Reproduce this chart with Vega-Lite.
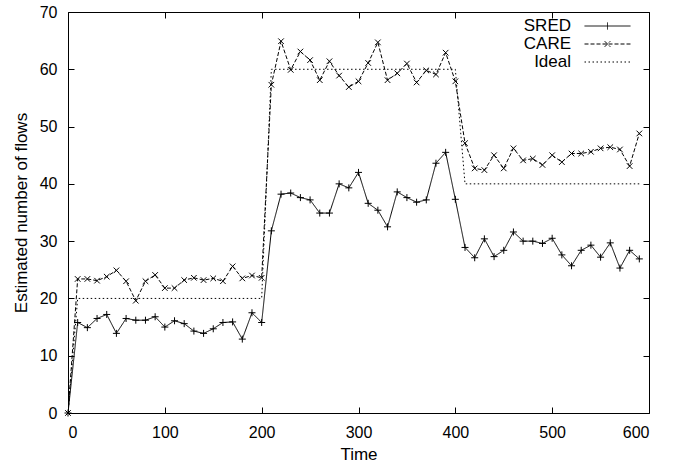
{
  "$schema": "https://vega.github.io/schema/vega-lite/v6.json",
  "width": 581,
  "height": 401,
  "autosize": {"type": "none"},
  "padding": {"left": 68, "top": 12, "right": 32, "bottom": 55},
  "background": "white",
  "config": {
    "font": "Liberation Sans",
    "view": {"stroke": "black", "strokeWidth": 1},
    "axis": {
      "grid": false,
      "domain": false,
      "tickColor": "black",
      "tickSize": -6,
      "tickWidth": 1,
      "labelColor": "black",
      "labelFontSize": 16,
      "labelFont": "Liberation Sans",
      "titleColor": "black",
      "titleFontSize": 17,
      "titleFont": "Liberation Sans",
      "titleFontWeight": "normal"
    }
  },
  "datasets": {
    "d": [
      {"t": 0, "v": 0, "s": "SRED"}, {"t": 10, "v": 15.8, "s": "SRED"}, {"t": 20, "v": 14.9, "s": "SRED"}, {"t": 30, "v": 16.5, "s": "SRED"}, {"t": 40, "v": 17.2, "s": "SRED"}, {"t": 50, "v": 13.9, "s": "SRED"}, {"t": 60, "v": 16.5, "s": "SRED"}, {"t": 70, "v": 16.2, "s": "SRED"}, {"t": 80, "v": 16.2, "s": "SRED"}, {"t": 90, "v": 16.8, "s": "SRED"},
      {"t": 100, "v": 15.0, "s": "SRED"}, {"t": 110, "v": 16.1, "s": "SRED"}, {"t": 120, "v": 15.6, "s": "SRED"}, {"t": 130, "v": 14.3, "s": "SRED"}, {"t": 140, "v": 13.9, "s": "SRED"}, {"t": 150, "v": 14.7, "s": "SRED"}, {"t": 160, "v": 15.8, "s": "SRED"}, {"t": 170, "v": 15.9, "s": "SRED"}, {"t": 180, "v": 12.9, "s": "SRED"}, {"t": 190, "v": 17.5, "s": "SRED"},
      {"t": 200, "v": 15.8, "s": "SRED"}, {"t": 210, "v": 31.8, "s": "SRED"}, {"t": 220, "v": 38.2, "s": "SRED"}, {"t": 230, "v": 38.4, "s": "SRED"}, {"t": 240, "v": 37.6, "s": "SRED"}, {"t": 250, "v": 37.2, "s": "SRED"}, {"t": 260, "v": 34.9, "s": "SRED"}, {"t": 270, "v": 34.9, "s": "SRED"}, {"t": 280, "v": 40.0, "s": "SRED"}, {"t": 290, "v": 39.3, "s": "SRED"},
      {"t": 300, "v": 42.0, "s": "SRED"}, {"t": 310, "v": 36.6, "s": "SRED"}, {"t": 320, "v": 35.4, "s": "SRED"}, {"t": 330, "v": 32.5, "s": "SRED"}, {"t": 340, "v": 38.6, "s": "SRED"}, {"t": 350, "v": 37.6, "s": "SRED"}, {"t": 360, "v": 36.8, "s": "SRED"}, {"t": 370, "v": 37.2, "s": "SRED"}, {"t": 380, "v": 43.6, "s": "SRED"}, {"t": 390, "v": 45.5, "s": "SRED"},
      {"t": 400, "v": 37.3, "s": "SRED"}, {"t": 410, "v": 28.9, "s": "SRED"}, {"t": 420, "v": 27.1, "s": "SRED"}, {"t": 430, "v": 30.4, "s": "SRED"}, {"t": 440, "v": 27.3, "s": "SRED"}, {"t": 450, "v": 28.4, "s": "SRED"}, {"t": 460, "v": 31.6, "s": "SRED"}, {"t": 470, "v": 30.0, "s": "SRED"}, {"t": 480, "v": 30.0, "s": "SRED"}, {"t": 490, "v": 29.6, "s": "SRED"},
      {"t": 500, "v": 30.5, "s": "SRED"}, {"t": 510, "v": 27.6, "s": "SRED"}, {"t": 520, "v": 25.7, "s": "SRED"}, {"t": 530, "v": 28.4, "s": "SRED"}, {"t": 540, "v": 29.3, "s": "SRED"}, {"t": 550, "v": 27.2, "s": "SRED"}, {"t": 560, "v": 29.7, "s": "SRED"}, {"t": 570, "v": 25.3, "s": "SRED"}, {"t": 580, "v": 28.4, "s": "SRED"}, {"t": 590, "v": 26.9, "s": "SRED"},
      {"t": 0, "v": 0, "s": "CARE"}, {"t": 10, "v": 23.4, "s": "CARE"}, {"t": 20, "v": 23.4, "s": "CARE"}, {"t": 30, "v": 23.1, "s": "CARE"}, {"t": 40, "v": 23.8, "s": "CARE"}, {"t": 50, "v": 24.9, "s": "CARE"}, {"t": 60, "v": 23.0, "s": "CARE"}, {"t": 70, "v": 19.6, "s": "CARE"}, {"t": 80, "v": 23.0, "s": "CARE"}, {"t": 90, "v": 24.1, "s": "CARE"},
      {"t": 100, "v": 21.8, "s": "CARE"}, {"t": 110, "v": 21.8, "s": "CARE"}, {"t": 120, "v": 23.2, "s": "CARE"}, {"t": 130, "v": 23.6, "s": "CARE"}, {"t": 140, "v": 23.2, "s": "CARE"}, {"t": 150, "v": 23.5, "s": "CARE"}, {"t": 160, "v": 23.0, "s": "CARE"}, {"t": 170, "v": 25.6, "s": "CARE"}, {"t": 180, "v": 23.5, "s": "CARE"}, {"t": 190, "v": 24.0, "s": "CARE"},
      {"t": 200, "v": 23.6, "s": "CARE"}, {"t": 210, "v": 57.3, "s": "CARE"}, {"t": 220, "v": 64.9, "s": "CARE"}, {"t": 230, "v": 59.9, "s": "CARE"}, {"t": 240, "v": 63.1, "s": "CARE"}, {"t": 250, "v": 61.6, "s": "CARE"}, {"t": 260, "v": 58.1, "s": "CARE"}, {"t": 270, "v": 61.4, "s": "CARE"}, {"t": 280, "v": 58.9, "s": "CARE"}, {"t": 290, "v": 56.9, "s": "CARE"},
      {"t": 300, "v": 57.9, "s": "CARE"}, {"t": 310, "v": 61.1, "s": "CARE"}, {"t": 320, "v": 64.7, "s": "CARE"}, {"t": 330, "v": 58.1, "s": "CARE"}, {"t": 340, "v": 59.3, "s": "CARE"}, {"t": 350, "v": 61.0, "s": "CARE"}, {"t": 360, "v": 57.7, "s": "CARE"}, {"t": 370, "v": 59.8, "s": "CARE"}, {"t": 380, "v": 59.1, "s": "CARE"}, {"t": 390, "v": 62.9, "s": "CARE"},
      {"t": 400, "v": 57.9, "s": "CARE"}, {"t": 410, "v": 47.1, "s": "CARE"}, {"t": 420, "v": 42.7, "s": "CARE"}, {"t": 430, "v": 42.4, "s": "CARE"}, {"t": 440, "v": 45.0, "s": "CARE"}, {"t": 450, "v": 42.7, "s": "CARE"}, {"t": 460, "v": 46.2, "s": "CARE"}, {"t": 470, "v": 44.1, "s": "CARE"}, {"t": 480, "v": 44.4, "s": "CARE"}, {"t": 490, "v": 43.3, "s": "CARE"},
      {"t": 500, "v": 45.0, "s": "CARE"}, {"t": 510, "v": 43.8, "s": "CARE"}, {"t": 520, "v": 45.3, "s": "CARE"}, {"t": 530, "v": 45.3, "s": "CARE"}, {"t": 540, "v": 45.6, "s": "CARE"}, {"t": 550, "v": 46.2, "s": "CARE"}, {"t": 560, "v": 46.4, "s": "CARE"}, {"t": 570, "v": 46.0, "s": "CARE"}, {"t": 580, "v": 43.1, "s": "CARE"}, {"t": 590, "v": 48.8, "s": "CARE"},
      {"t": 0, "v": 0, "s": "Ideal"}, {"t": 10, "v": 20, "s": "Ideal"}, {"t": 200, "v": 20, "s": "Ideal"}, {"t": 210, "v": 60, "s": "Ideal"}, {"t": 400, "v": 60, "s": "Ideal"}, {"t": 410, "v": 40, "s": "Ideal"}, {"t": 590, "v": 40, "s": "Ideal"}
    ]
  },
  "data": {"name": "d"},
  "layer": [
    {
      "mark": {"type": "line", "color": "black", "strokeWidth": 1, "clip": true},
      "encoding": {
        "x": {"field": "t", "type": "quantitative", "scale": {"domain": [0, 600], "nice": false}, "axis": {"title": "Time", "orient": "bottom", "values": [0, 100, 200, 300, 400, 500, 600], "labelPadding": 17, "titlePadding": 6}},
        "y": {"field": "v", "type": "quantitative", "scale": {"domain": [0, 70], "nice": false}, "axis": {"title": "Estimated number of flows", "orient": "left", "values": [0, 10, 20, 30, 40, 50, 60, 70], "labelPadding": 17, "titlePadding": 9}},
        "strokeDash": {
          "field": "s", "type": "nominal",
          "scale": {"domain": ["SRED", "CARE", "Ideal"], "range": [[1, 0], [4, 2], [1.5, 2.5]]},
          "legend": {
            "title": null,
            "orient": "none",
            "legendX": 451,
            "legendY": 5.5,
            "padding": 0,
            "symbolSize": 49,
            "symbolStrokeColor": "black",
            "symbolStrokeWidth": 1,
            "symbolOffset": 80,
            "labelOffset": -45,
            "labelAlign": "right",
            "labelFontSize": 17,
            "labelColor": "black",
            "labelFont": "Liberation Sans",
            "rowPadding": 0,
            "encode": {
              "symbols": {
                "update": {
                  "shape": {"signal": "datum.value === 'SRED' ? 'M-6.57,0L6.57,0M0,-1L0,1' : datum.value === 'CARE' ? 'M-6.57,0L6.57,0M-0.8,-0.8L0.8,0.8M-0.8,0.8L0.8,-0.8' : 'M-6.57,0L6.57,0'"}
                }
              }
            }
          }
        }
      }
    },
    {
      "transform": [{"filter": "datum.s !== 'Ideal'"}],
      "mark": {"type": "point", "filled": false, "stroke": "black", "strokeWidth": 1, "size": 49, "opacity": 1},
      "encoding": {
        "x": {"field": "t", "type": "quantitative", "scale": {"domain": [0, 600], "nice": false}, "axis": {"title": null, "orient": "top", "labels": false, "values": [0, 100, 200, 300, 400, 500, 600]}},
        "y": {"field": "v", "type": "quantitative", "scale": {"domain": [0, 70], "nice": false}, "axis": {"title": null, "orient": "right", "labels": false, "values": [0, 10, 20, 30, 40, 50, 60, 70]}},
        "shape": {
          "field": "s", "type": "nominal",
          "scale": {"domain": ["SRED", "CARE"], "range": ["M-1,0L1,0M0,-1L0,1", "M-0.8,-0.8L0.8,0.8M-0.8,0.8L0.8,-0.8"]},
          "legend": null
        }
      }
    }
  ],
  "resolve": {"axis": {"x": "independent", "y": "independent"}}
}
